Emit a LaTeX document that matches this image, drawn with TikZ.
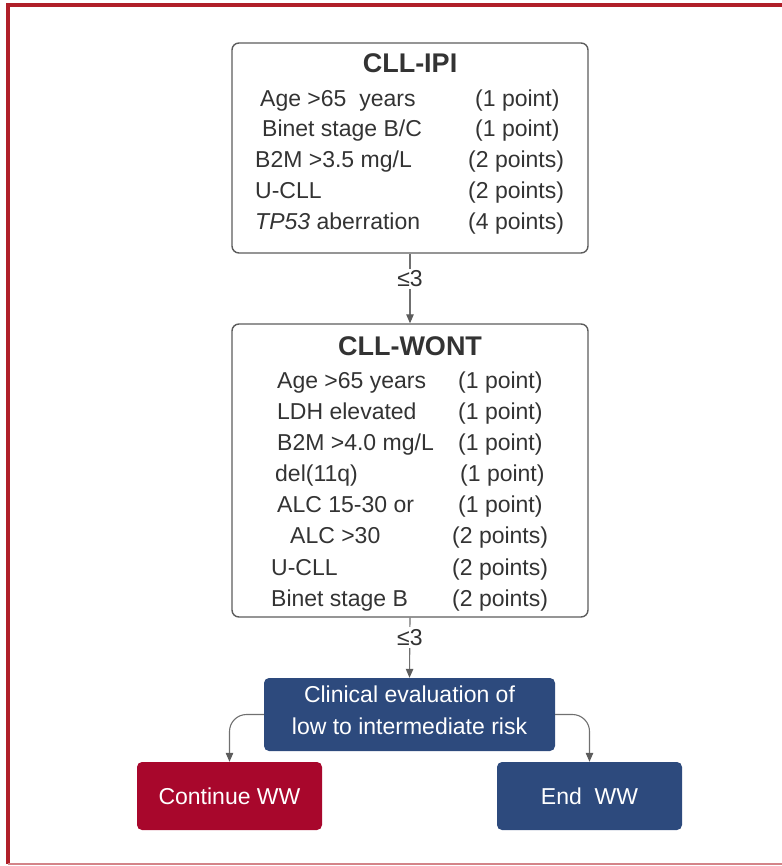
\documentclass[tikz,border=0pt]{standalone}
\usepackage{fontspec}
\setmainfont{Liberation Sans}
\usetikzlibrary{arrows.meta}
\definecolor{framered}{HTML}{B01F29}
\definecolor{navy}{HTML}{2D4A7D}
\definecolor{crimson}{HTML}{A8072C}
\definecolor{ink}{HTML}{333333}
\definecolor{edge}{HTML}{5C5C5C}
\definecolor{wire}{HTML}{707070}

\begin{document}
\begin{tikzpicture}[x=1pt,y=-1pt,
  scorebox/.style={draw=edge, line width=1.4pt, rounded corners=7pt, inner sep=0},
  fillbox/.style={rounded corners=5pt, inner sep=0, text=white,
    font=\fontsize{23}{32}\selectfont, align=center},
  title/.style={font=\fontsize{27}{30}\selectfont\bfseries, text=ink, inner sep=0},
  item/.style={font=\fontsize{23}{28}\selectfont, text=ink, inner sep=0,
    anchor=west, text height=16.5pt, text depth=0pt},
  flow/.style={draw=wire, line width=1.1pt,
    -{Triangle[length=9pt,width=7.5pt,color=edge]}},
  gate/.style={font=\fontsize{23}{26}\selectfont, text=ink, fill=white, inner sep=2pt}
]
\useasboundingbox (0,0) rectangle (781,866);

% outer frame, open on the right
\draw[framered, line width=3.4pt] (795,5) -- (8,5) -- (8,864);
\draw[framered!55, line width=1.8pt] (8,864) -- (795,864);

% CLL-IPI score box
\node[scorebox, minimum width=356pt, minimum height=210pt] (ipi) at (410,148) {};
\node[title] (ipiT) at (410,63) {CLL-IPI};
\node[item] (i1) at (260,98)  {Age >65\ \ years};
\node[item] (i2) at (262,128) {Binet stage B/C};
\node[item] (i3) at (255,159) {B2M >3.5 mg/L};
\node[item] (i4) at (255,190) {U-CLL};
\node[item] (i5) at (255,221) {\itshape TP53\upshape{} aberration};
\node[item] (p1) at (475,98)  {(1 point)};
\node[item] (p2) at (475,128) {(1 point)};
\node[item] (p3) at (468,159) {(2 points)};
\node[item] (p4) at (468,190) {(2 points)};
\node[item] (p5) at (468,221) {(4 points)};

% CLL-WONT score box
\node[scorebox, minimum width=356pt, minimum height=293pt] (wont) at (410,470.5) {};
\node[title] (wontT) at (410,346) {CLL-WONT};
\node[item] (w1) at (277,380) {Age >65 years};
\node[item] (w2) at (277,411) {LDH elevated};
\node[item] (w3) at (277,442) {B2M >4.0 mg/L};
\node[item] (w4) at (275,473) {del(11q)};
\node[item] (w5) at (277,504) {ALC 15-30 or};
\node[item] (w6) at (290,535) {ALC >30};
\node[item] (w7) at (271,567) {U-CLL};
\node[item] (w8) at (271,598) {Binet stage B};
\node[item] (q1) at (458,380) {(1 point)};
\node[item] (q2) at (458,411) {(1 point)};
\node[item] (q3) at (458,442) {(1 point)};
\node[item] (q4) at (460,473) {(1 point)};
\node[item] (q5) at (458,504) {(1 point)};
\node[item] (q6) at (452,535) {(2 points)};
\node[item] (q7) at (452,567) {(2 points)};
\node[item] (q8) at (452,598) {(2 points)};

% decision boxes
\node[fillbox, fill=navy, minimum width=291pt, minimum height=73pt] (clin) at (409.5,714.5) {};
\node[fillbox] (clinT) at (409.5,710) {Clinical evaluation of\\low to intermediate risk};
\node[fillbox, fill=crimson, minimum width=185pt, minimum height=68pt] (cont) at (229.5,796) {Continue WW};
\node[fillbox, fill=navy, minimum width=185pt, minimum height=68pt] (endw) at (589.5,796) {End\ \ WW};

% connectors
\draw[flow] (ipi.south) -- node[gate, pos=0.36] (g1) {≤3} (wont.north);
\draw[flow] (wont.south) -- node[gate, pos=0.33] (g2) {≤3} (clin.north);
\draw[flow, rounded corners=17pt] (clin.west) -| (cont.north);
\draw[flow, rounded corners=17pt] (clin.east) -| (endw.north);
\end{tikzpicture}
\end{document}
